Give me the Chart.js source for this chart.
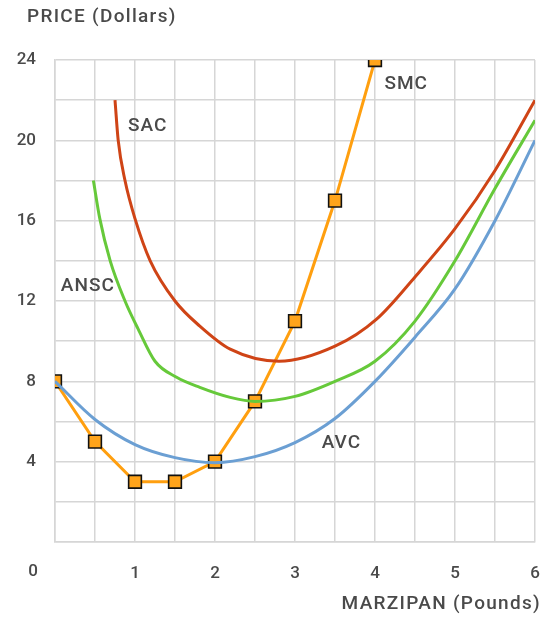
<!DOCTYPE html>
<html><head><meta charset="utf-8">
<script src="https://cdn.jsdelivr.net/npm/chart.js@4"></script>
<style>html,body{margin:0;padding:0;background:#fff}#wrap{width:548px;height:617px}</style>
</head><body><div id="wrap"><canvas id="c" width="548" height="617"></canvas></div>
<script>
const sacX = [0.75, 0.79, 0.875, 1, 1.19, 1.5, 1.81, 2.19, 2.8, 3.5, 4.02, 4.5, 5, 5.5, 6];
const sacY = [22, 20, 18, 16.1, 14, 12, 10.75, 9.6, 9, 9.75, 11.1, 13.2, 15.6, 18.5, 22];
const anscX = [0.48, 0.56, 0.69, 0.875, 1.04, 1.25, 1.52, 1.81, 2.19, 2.5, 3, 3.5, 4, 4.5, 5, 5.5, 6];
const anscY = [18, 16.1, 14, 12, 10.6, 9, 8.2, 7.7, 7.2, 7, 7.25, 8, 9, 11, 14, 17.6, 21];
const avcX = [0, 0.5, 1, 1.5, 2, 2.5, 3, 3.5, 4, 4.5, 5, 5.5, 6];
const avcY = [8, 6.1, 4.85, 4.2, 3.95, 4.25, 4.95, 6.15, 8, 10.2, 12.6, 16, 20];
const smcX = [0, 0.5, 1, 1.5, 2, 2.5, 3, 3.5, 4];
const smcY = [8, 5, 3, 3, 4, 7, 11, 17, 24];
const xTickLabels = [1, 2, 3, 4, 5, 6];
const yTickLabels = [4, 8, 12, 16, 20, 24];
const curveNames = ['SAC', 'ANSC', 'AVC', 'SMC'];

const pts = (xs, ys) => xs.map((x, i) => ({x, y: ys[i]}));
const FONT = 'Roboto, "DejaVu Sans", sans-serif';
const TXT = '#4a4a4a';

const textPlugin = {
  id: 'texts',
  afterDraw(chart) {
    const ctx = chart.ctx, xs = chart.scales.x, ys = chart.scales.y;
    ctx.save();
    ctx.fillStyle = TXT;
    ctx.font = '500 19px ' + FONT;
    ctx.letterSpacing = '1.3px';
    ctx.textBaseline = 'middle';
    ctx.textAlign = 'left';
    ctx.fillText('PRICE (Dollars)', 27, 17);
    ctx.textAlign = 'right';
    ctx.fillText('MARZIPAN (Pounds)', 541, 604);
    ctx.letterSpacing = '0px';
    ctx.font = '500 17px ' + FONT;
    ctx.textAlign = 'center';
    ctx.fillText('0', 33, 572);
    ctx.font = '500 19px ' + FONT;
    ctx.letterSpacing = '1px';
    const labelAt = [[1.16, 20.7], [0.41, 12.75], [3.58, 4.9], [4.39, 22.8]];
    curveNames.forEach((n, i) => {
      ctx.fillText(n, xs.getPixelForValue(labelAt[i][0]), ys.getPixelForValue(labelAt[i][1]));
    });
    ctx.restore();
  }
};

const lineDs = (label, data, color) => ({
  label, data, borderColor: color, borderWidth: 3, pointRadius: 0,
  cubicInterpolationMode: 'monotone', fill: false
});

new Chart(document.getElementById('c'), {
  type: 'line',
  data: {
    datasets: [
      lineDs(curveNames[0], pts(sacX, sacY), '#cf4416'),
      lineDs(curveNames[1], pts(anscX, anscY), '#66c93a'),
      lineDs(curveNames[2], pts(avcX, avcY), '#6b9fd3'),
      {
        label: curveNames[3], data: pts(smcX, smcY), borderColor: '#ff9f0f', borderWidth: 3,
        tension: 0, pointStyle: 'rect', pointRadius: 9, pointBackgroundColor: '#ffa41b',
        pointBorderColor: '#111', pointBorderWidth: 1.6, fill: false
      }
    ]
  },
  options: {
    responsive: false, animation: false, devicePixelRatio: 1,
    layout: {padding: {top: 60, right: 13, left: 0, bottom: 0}},
    plugins: {legend: {display: false}, tooltip: {enabled: false}},
    scales: {
      x: {
        type: 'linear', min: 0, max: 6,
        afterFit: s => { s.height = 75; s.paddingRight = 0; s.paddingLeft = 0; },
        grid: {color: '#d6d6d6', lineWidth: 1.5, drawTicks: false},
        border: {color: '#d6d6d6', width: 1.5},
        ticks: {
          stepSize: 0.5, padding: 22, maxRotation: 0, autoSkip: false,
          color: TXT, font: {family: FONT, size: 17, weight: '500'},
          callback: v => xTickLabels.includes(v) ? String(v) : ''
        }
      },
      y: {
        min: 0, max: 24,
        afterFit: s => { s.width = 55; s.paddingTop = 0; s.paddingBottom = 0; },
        grid: {color: '#d6d6d6', lineWidth: 1.5, drawTicks: false},
        border: {color: '#d6d6d6', width: 1.5},
        ticks: {
          stepSize: 2, padding: 19, autoSkip: false,
          color: TXT, font: {family: FONT, size: 17, weight: '500'},
          callback: v => yTickLabels.includes(v) ? String(v) : ''
        }
      }
    }
  },
  plugins: [textPlugin]
});
</script></body></html>
